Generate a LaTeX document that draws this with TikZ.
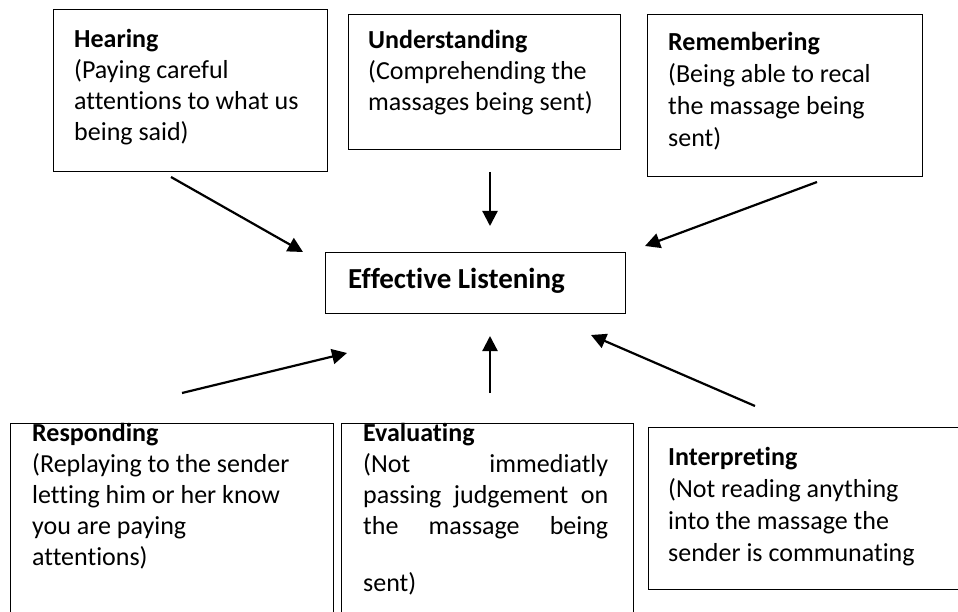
\documentclass[tikz,border=0pt]{standalone}
\usepackage{fontspec}
\setmainfont[Ligatures=NoCommon]{Carlito}
\usetikzlibrary{arrows.meta}
\begin{document}
\begin{tikzpicture}[x=1pt,y=-1pt,
  box/.style={draw,line width=1.3pt,rectangle,inner sep=0pt,anchor=north west},
  txt/.style={anchor=north west,inner sep=0pt,align=left,font=\fontsize{26}{31}\selectfont},
  txtb/.style={anchor=north west,inner sep=0pt,align=left,font=\fontsize{26}{32}\selectfont},
  arr/.style={line width=2.2pt,-{Triangle[length=15pt,width=15pt]}}]
\useasboundingbox (0,0) rectangle (958,612);
\clip (0,0) rectangle (958,612);
% boxes
\node[box,minimum width=274pt,minimum height=162pt] (hearB) at (53,9) {};
\node[box,minimum width=272pt,minimum height=135pt] (undB) at (348,14) {};
\node[box,minimum width=275pt,minimum height=162pt] (remB) at (647,14) {};
\node[box,minimum width=300pt,minimum height=61pt] (effB) at (325,252) {};
\node[box,minimum width=323pt,minimum height=230pt] (respB) at (10,423) {};
\node[box,minimum width=292pt,minimum height=230pt] (evalB) at (341,423) {};
\node[box,minimum width=330pt,minimum height=162pt] (intB) at (648,427) {};
% texts
\node[txt] (hear) at (74,{47-21.7}) {\strut\textbf{Hearing}\\(Paying careful\\attentions to what us\\being said)};
\node[txt] (und) at (368,{48-21.7}) {\strut\textbf{Understanding}\\(Comprehending the\\massages being sent)};
\node[txtb] (rem) at (668,{50-22.4}) {\strut\textbf{Remembering}\\(Being able to recal\\the massage being\\sent)};
\node[anchor=base west,inner sep=0pt,font=\fontsize{29}{34}\selectfont\bfseries] (eff) at (348,288) {Effective Listening};
\node[txt] (resp) at (32,{441-21.7}) {\strut\textbf{Responding}\\(Replaying to the sender\\letting him or her know\\you are paying\\attentions)};
\node[txt] (eval) at (363,{441-21.7}) {\strut\textbf{Evaluating}\\\makebox[245pt][s]{(Not immediatly}\\\makebox[245pt][s]{passing judgement on}\\\makebox[245pt][s]{the massage being}\\[26pt]sent)};
\node[txtb] (int) at (668,{465-22.4}) {\strut\textbf{Interpreting}\\(Not reading anything\\into the massage the\\sender is communating};
% arrow end points
\coordinate (a1s) at (171,177); \coordinate (a1e) at (303,252);
\coordinate (a2s) at (490,172); \coordinate (a2e) at (490,226);
\coordinate (a3s) at (817,182); \coordinate (a3e) at (645,246);
\coordinate (a4s) at (182,393); \coordinate (a4e) at (347,353);
\coordinate (a5s) at (490,393); \coordinate (a5e) at (490,336);
\coordinate (a6s) at (755,406); \coordinate (a6e) at (591,335);
\draw[arr] (a1s) -- (a1e);
\draw[arr] (a2s) -- (a2e);
\draw[arr] (a3s) -- (a3e);
\draw[arr] (a4s) -- (a4e);
\draw[arr] (a5s) -- (a5e);
\draw[arr] (a6s) -- (a6e);
\end{tikzpicture}
\end{document}
